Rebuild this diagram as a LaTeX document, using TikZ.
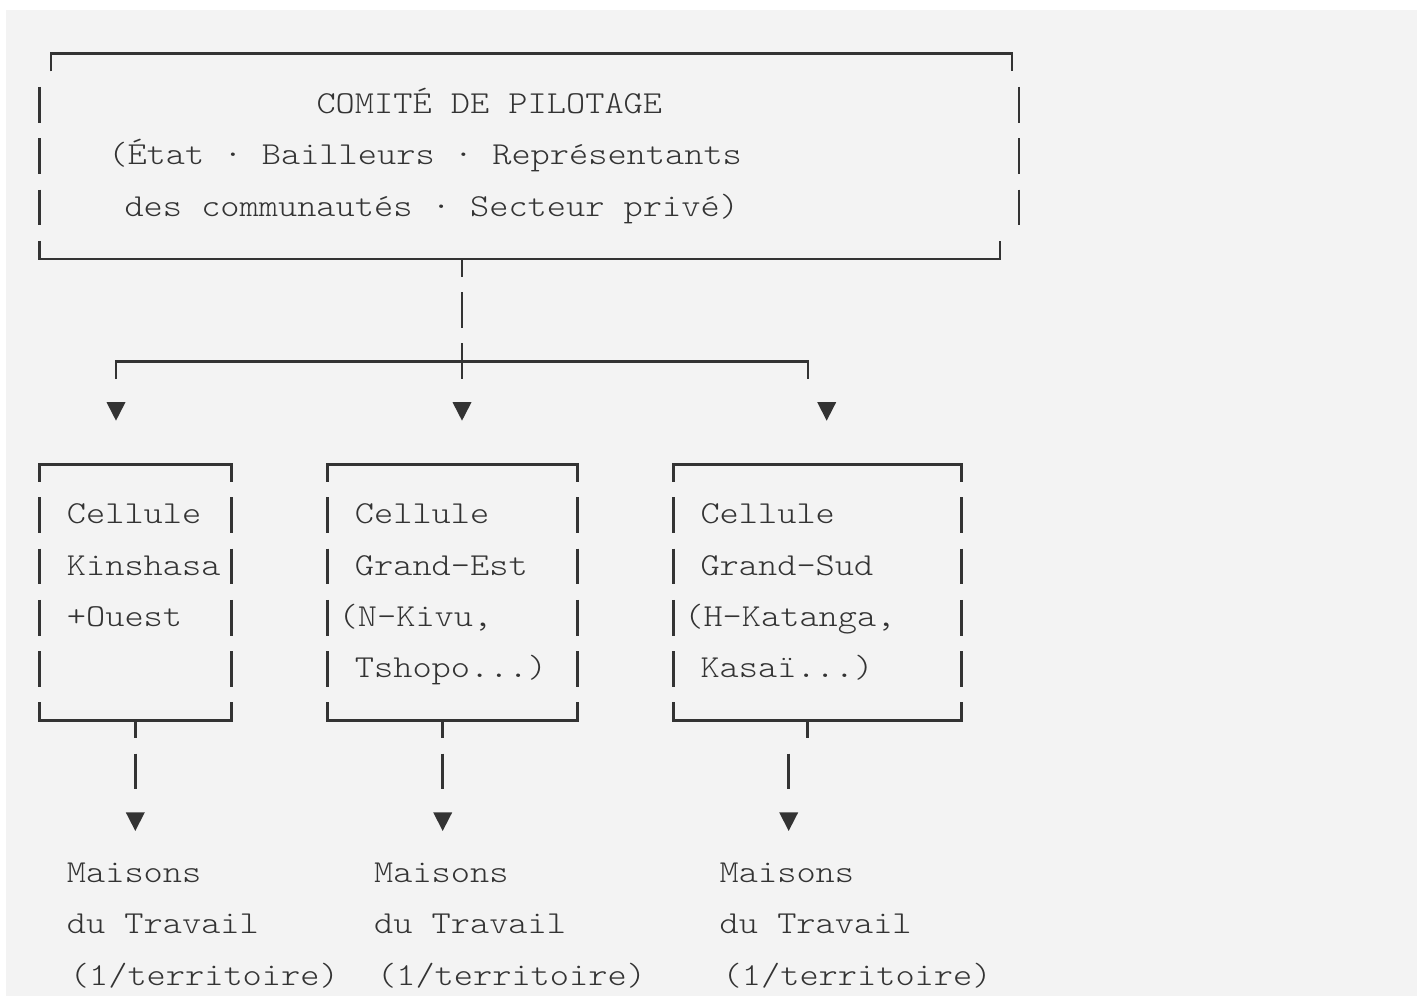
\documentclass[tikz,border=0pt]{standalone}
\usepackage{fontspec}
\newfontfamily\asciimono[FakeStretch=1.143]{lmmonolt10-regular.otf}
\definecolor{bgcol}{HTML}{F3F3F3}
\definecolor{inkcol}{HTML}{333333}
% row baseline (px, downward) and text column start
\newcommand\asciirow[1]{62.2+51.28*#1}
\newcommand\asciicol[1]{28.5+19.2*#1}
\newcommand\asciivbar[2]{\draw[ln] (#1,{\asciirow{#2}-26.5}) -- (#1,{\asciirow{#2}+9.3});}
\newcommand\asciitri[2]{\fill[tri] ({#1-9.5},{\asciirow{#2}-19}) -- ({#1+9.5},{\asciirow{#2}-19}) -- (#1,{\asciirow{#2}-0.5}) -- cycle;}
\newcommand\asciitop[3]{\draw[ln] (#1,{\asciirow{#3}+9.3}) -- (#1,{\asciirow{#3}-8.3}) -- (#2,{\asciirow{#3}-8.3}) -- (#2,{\asciirow{#3}+9.3});}
\newcommand\asciibot[3]{\draw[ln] (#1,{\asciirow{#3}-26.5}) -- (#1,{\asciirow{#3}-8.3}) -- (#2,{\asciirow{#3}-8.3}) -- (#2,{\asciirow{#3}-26.5});}
\begin{document}
\begin{tikzpicture}[x=1pt,y=-1pt,
  ln/.style={draw=inkcol,line width=2.8pt,line cap=butt,line join=miter},
  tri/.style={fill=inkcol},
  txt/.style={font=\fontsize{32}{38}\asciimono,text=inkcol,anchor=base west,inner sep=0pt,outer sep=0pt},
  ptxt/.style={txt,xshift=3pt}]
\useasboundingbox (0,0) rectangle (1417,998);
\fill[bgcol] (6,10) rectangle (1417,996);

% ---------- top box ----------
\asciitop{51}{1012}{0}
\foreach \r in {1,2,3} {\asciivbar{39.3}{\r}\asciivbar{1019}{\r}}
\asciibot{39.3}{1000}{4}
\node[txt] (comite) at ({\asciicol{15}},{\asciirow{1}}) {COMITÉ DE PILOTAGE};
\node[ptxt] (membresA) at ({\asciicol{4}},{\asciirow{2}}) {(État · Bailleurs · Représentants};
\node[txt] (membresB) at ({\asciicol{5}},{\asciirow{3}}) {des communautés · Secteur privé)};

% ---------- connector to the cells ----------
\coordinate (topstubA) at (462,{\asciirow{4}-8.3});
\coordinate (topstubB) at (462,{\asciirow{4}+9.3});
\draw[ln] (topstubA) -- (topstubB);
\asciivbar{462}{5}
\coordinate (hubtop) at (462,{\asciirow{6}-26.5});
\coordinate (hubbot) at (462,{\asciirow{6}+9.3});
\draw[ln] (hubtop) -- (hubbot);
\coordinate (branchL) at (116,{\asciirow{6}+9.3});
\coordinate (branchR) at (808,{\asciirow{6}+9.3});
\draw[ln] (branchL) -- (116,{\asciirow{6}-8.3}) -- (808,{\asciirow{6}-8.3}) -- (branchR);
\asciitri{116}{7}
\asciitri{462}{7}
\asciitri{826.7}{7}

% ---------- cell boxes ----------
\asciitop{39.4}{231.5}{8}
\asciitop{327.5}{577.5}{8}
\asciitop{673.5}{961.5}{8}
\foreach \r in {9,...,12} {
  \asciivbar{39.4}{\r}\asciivbar{231.5}{\r}
  \asciivbar{327.5}{\r}\asciivbar{577.5}{\r}
  \asciivbar{673.5}{\r}\asciivbar{961.5}{\r}
}
\asciibot{39.4}{231.5}{13}
\asciibot{327.5}{577.5}{13}
\asciibot{673.5}{961.5}{13}

\node[txt] (kinA) at ({\asciicol{2}},{\asciirow{9}}) {Cellule};
\node[txt] (kinB) at ({\asciicol{2}},{\asciirow{10}}) {Kinshasa};
\node[txt] (kinC) at ({\asciicol{2}},{\asciirow{11}}) {+Ouest};

\node[txt] (estA) at ({\asciicol{17}},{\asciirow{9}}) {Cellule};
\node[txt] (estB) at ({\asciicol{17}},{\asciirow{10}}) {Grand-Est};
\node[ptxt] (estC) at ({\asciicol{16}},{\asciirow{11}}) {(N-Kivu,};
\node[txt] (estD) at ({\asciicol{17}},{\asciirow{12}}) {Tshopo...)};

\node[txt] (sudA) at ({\asciicol{35}},{\asciirow{9}}) {Cellule};
\node[txt] (sudB) at ({\asciicol{35}},{\asciirow{10}}) {Grand-Sud};
\node[ptxt] (sudC) at ({\asciicol{34}},{\asciirow{11}}) {(H-Katanga,};
\node[txt] (sudD) at ({\asciicol{35}},{\asciirow{12}}) {Kasaï...)};

% ---------- connectors to the Maisons ----------
\foreach \x in {135.3,442.7,807.7} {
  \draw[ln] (\x,{\asciirow{13}-8.3}) -- (\x,{\asciirow{13}+9.3});
}
\foreach \x in {135.3,442.7,788.7} {
  \asciivbar{\x}{14}
  \asciitri{\x}{15}
}

% ---------- Maisons du Travail ----------
\foreach \k/\n in {2/a,18/b,36/c} {
  \node[txt] (mais\n A) at ({\asciicol{\k}},{\asciirow{16}}) {Maisons};
  \node[txt] (mais\n B) at ({\asciicol{\k}},{\asciirow{17}}) {du Travail};
  \node[ptxt] (mais\n C) at ({\asciicol{\k}},{\asciirow{18}}) {(1/territoire)};
}
\end{tikzpicture}
\end{document}
